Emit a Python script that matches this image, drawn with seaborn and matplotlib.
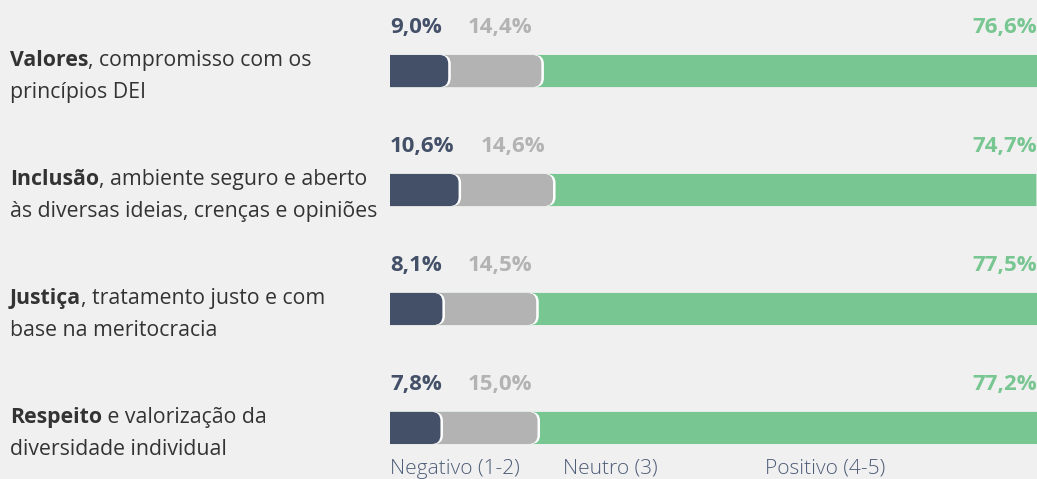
import pandas as pd
import seaborn as sns
import matplotlib.pyplot as plt
from matplotlib.path import Path
from matplotlib.patches import PathPatch
from matplotlib import transforms

# chart data
categories = ['Valores', 'Inclusão', 'Justiça', 'Respeito']
label_rest = [', compromisso com os', ', ambiente seguro e aberto',
              ', tratamento justo e com', ' e valorização da']
label_second = ['princípios DEI', 'às diversas ideias, crenças e opiniões',
                'base na meritocracia', 'diversidade individual']
negativo = [9.0, 10.6, 8.1, 7.8]
neutro = [14.4, 14.6, 14.5, 15.0]
positivo = [76.6, 74.7, 77.5, 77.2]
legend_labels = ['Negativo (1-2)', 'Neutro (3)', 'Positivo (4-5)']

NAVY = '#435068'
GRAY = '#b3b3b3'
GREEN = '#78c691'
BG = '#f0f0f0'
TEXT = '#333333'
LEGEND = '#4e5d78'

sns.set_theme(style='white')
plt.rcParams['font.family'] = ['Open Sans', 'DejaVu Sans']


def fmt(v):
    return f'{v:.1f}%'.replace('.', ',')


def rounded_right(x0, y0, w, h, rx, ry):
    """Rectangle path with rounded corners on the right end only."""
    x1, y1 = x0 + w, y0 + h
    verts = [(x0, y0), (x1 - rx, y0), (x1, y0), (x1, y0 + ry),
             (x1, y1 - ry), (x1, y1), (x1 - rx, y1), (x0, y1), (x0, y0)]
    codes = [Path.MOVETO, Path.LINETO, Path.CURVE3, Path.CURVE3,
             Path.LINETO, Path.CURVE3, Path.CURVE3, Path.LINETO,
             Path.CLOSEPOLY]
    return Path(verts, codes)


df = pd.DataFrame({'cat': categories, 'neg': negativo,
                   'neu': neutro, 'pos': positivo})
df['neg_neu'] = df['neg'] + df['neu']
df['total'] = df['neg_neu'] + df['pos']

fig = plt.figure(figsize=(10.37, 4.79), dpi=100, facecolor=BG)
ax = fig.add_axes([390 / 1037, 0, 647 / 1037, 1])
ax.set_facecolor(BG)

# stacked bars: draw cumulative totals, biggest first
for col, c in [('total', GREEN), ('neg_neu', GRAY), ('neg', NAVY)]:
    sns.barplot(data=df, x=col, y='cat', color=c, saturation=1,
                width=0.27, orient='h', ax=ax)

# swap the rectangles for shapes with a rounded right end,
# each one with a thin white halo on its right side
px_x, px_y = 6.47, 119
rx, ry = 9 / px_x, 9 / px_y
gap = 2.5 / px_x
for p in list(ax.patches):
    x0, y0, w, h = p.get_x(), p.get_y(), p.get_width(), p.get_height()
    fc = p.get_facecolor()
    p.remove()
    if x0 + w >= 99:
        ax.add_patch(PathPatch(rounded_right(x0, y0, w, h, 0, 0),
                               facecolor=fc, lw=0))
        continue
    ax.add_patch(PathPatch(rounded_right(x0, y0, w + gap, h, rx, ry),
                           facecolor='white', lw=0))
    ax.add_patch(PathPatch(rounded_right(x0, y0, w, h, rx, ry),
                           facecolor=fc, lw=0))
ax.set_xlim(0, 100)
ax.set_ylim(3.429, -0.597)
ax.axis('off')

# percentage labels above each bar
for i in range(len(categories)):
    y = i - 0.322
    t = ax.text(0, y, fmt(negativo[i]), color=NAVY, fontsize=16,
                fontweight='bold', va='baseline', ha='left')
    ax.annotate(fmt(neutro[i]), xy=(1, 0), xycoords=t, xytext=(19, 0),
                textcoords='offset points', va='bottom', ha='left',
                color=GRAY, fontsize=16, fontweight='bold')
    ax.text(100, y, fmt(positivo[i]), color=GREEN, fontsize=16,
            fontweight='bold', va='baseline', ha='right')

# category labels on the left, bold key word + normal text
trans = transforms.blended_transform_factory(fig.transFigure, ax.transData)
for i in range(len(categories)):
    b = ax.text(10 / 1037, i - 0.045, categories[i], transform=trans,
                fontsize=15.3, fontweight='bold', color=TEXT,
                va='baseline')
    ax.annotate(label_rest[i], xy=(1, 0), xycoords=b, va='bottom',
                ha='left', fontsize=15.3, color=TEXT)
    ax.text(10 / 1037, i + 0.225, label_second[i], transform=trans,
            fontsize=15.3, color=TEXT, va='baseline')

# legend as plain text under the bars
for x, lab in zip([0, 26.7, 58.0], legend_labels):
    ax.text(x, 3.386, lab, fontsize=15, color=LEGEND, va='baseline',
            ha='left', fontweight='light')

fig.savefig('out.png', dpi=100, facecolor=BG)
